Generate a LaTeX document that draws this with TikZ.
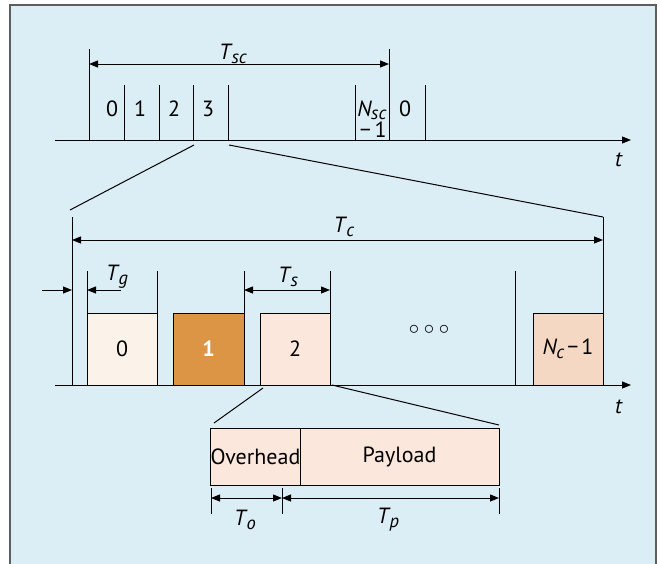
\documentclass[tikz,border=0pt]{standalone}
\usepackage{fontspec}
\setmainfont{PT Sans}
\usetikzlibrary{arrows.meta}
\definecolor{bg}{HTML}{DBEDF5}
\definecolor{framegray}{HTML}{5E5E5E}
\definecolor{cA}{HTML}{FBF2E9}
\definecolor{cB}{HTML}{DC9544}
\definecolor{cC}{HTML}{FBE7DB}
\definecolor{cD}{HTML}{F5D8C3}
\newcommand\Tlab[2]{\textit{#1}\kern-1pt\raisebox{-0.35ex}{\fontsize{18.5}{18}\selectfont\textit{#2}}}
\begin{document}
\begin{tikzpicture}[x=1pt,y=-1pt,line width=1pt,
  tipend/.style={-{Triangle[length=9pt,width=7pt]}},
  dim/.style={{Triangle[length=9pt,width=7pt]}-{Triangle[length=9pt,width=7pt]}},
  lab/.style={inner sep=0pt,font=\fontsize{22}{24}\selectfont},
  box/.style={draw,inner sep=0pt,line width=0.8pt,font=\fontsize{22}{24}\selectfont}]
\useasboundingbox (0,0) rectangle (661,563);
\path[fill=bg,draw=framegray,line width=1.5pt] (10,5) rectangle (656,640);

% ---------- top time line ----------
\coordinate (a1s) at (55,140);
\coordinate (a1e) at (631,140);
\draw[tipend] (a1s) -- (a1e);
\node[lab] (t1) at (619,160) {\textit{t}};
\foreach \x in {89,389}{\draw (\x,49) -- (\x,140);}
\foreach \x in {124,159,193,228,355,425}{\draw (\x,85) -- (\x,140);}
\coordinate (sc0) at (89,64);
\coordinate (sc1) at (389,64);
\draw[dim] (sc0) -- (sc1);
\node[lab] (Tsc) at (233,54) {\Tlab{T}{sc}};
\node[lab] (s0) at (112,109) {0};
\node[lab] (s1) at (140,109) {1};
\node[lab] (s2) at (174,109) {2};
\node[lab] (s3) at (208,109) {3};
\node[lab,align=right,font=\fontsize{22}{21}\selectfont] (sN) at (372,119) {\textit{N}\kern-1pt\raisebox{-0.3ex}{\fontsize{18.5}{18}\selectfont\textit{sc}}\\\char"2212\,1};
\node[lab] (s0b) at (405,109) {0};

% ---------- zoom lines 1 ----------
\coordinate (z1a) at (194,145);
\coordinate (z1b) at (70,210);
\coordinate (z1c) at (229,145);
\coordinate (z1d) at (603,217);
\draw (z1a) -- (z1b);
\draw (z1c) -- (z1d);

% ---------- middle time line ----------
\coordinate (a2s) at (55,385);
\coordinate (a2e) at (631,385);
\draw[tipend] (a2s) -- (a2e);
\node[lab] (t2) at (619,407) {\textit{t}};
\foreach \x in {72,603}{\draw (\x,217) -- (\x,385);}
\foreach \x in {87,157,244,330,515}{\draw (\x,271) -- (\x,385);}
\coordinate (c0) at (72,240);
\coordinate (c1) at (603,240);
\draw[dim] (c0) -- (c1);
\node[lab] (Tc) at (344,227) {\Tlab{T}{c}};

\node[box,fill=cA,minimum width=70pt,minimum height=72pt] (b0) at (122,349) {0};
\node[box,fill=cB,minimum width=71pt,minimum height=72pt,text=white] (b1) at (208.5,349) {\textbf{1}};
\node[box,fill=cC,minimum width=70pt,minimum height=72pt] (b2) at (295,349) {2};
\node[box,fill=cD,minimum width=70pt,minimum height=72pt] (bN) at (568,349) {\textit{N}\kern-1pt\raisebox{-0.35ex}{\fontsize{18.5}{18}\selectfont\textit{c}}\kern3pt\char"2212\kern3pt1};
\node[lab] (dots) at (429,330) {$\circ\circ\circ$};

\coordinate (g0) at (42,290);
\coordinate (g1) at (72,290);
\draw[tipend] (g0) -- (g1);
\coordinate (g2) at (121,290);
\coordinate (g3) at (87,290);
\draw[tipend] (g2) -- (g3);
\node[lab] (Tg) at (117,277) {\Tlab{T}{g}};
\coordinate (s0c) at (244,290);
\coordinate (s1c) at (330,290);
\draw[dim] (s0c) -- (s1c);
\node[lab] (Ts) at (288,277) {\Tlab{T}{s}};

% ---------- zoom lines 2 ----------
\coordinate (z2a) at (263,388);
\coordinate (z2b) at (214,423);
\coordinate (z2c) at (332,385);
\coordinate (z2d) at (499,425);
\draw (z2a) -- (z2b);
\draw (z2c) -- (z2d);

% ---------- slot detail ----------
\node[box,fill=cC,minimum width=89pt,minimum height=57pt] (ov) at (255.5,456.5) {Overhead};
\node[box,fill=cC,minimum width=199pt,minimum height=57pt] (pl) at (399.5,456.5) {Payload};
\foreach \x in {211,282,499}{\draw (\x,488) -- (\x,514);}
\coordinate (o0) at (211,498);
\coordinate (o1) at (282,498);
\coordinate (p1) at (499,498);
\draw[dim] (o0) -- (o1);
\draw[dim] (o1) -- (p1);
\node[lab] (To) at (245,520) {\Tlab{T}{o}};
\node[lab] (Tp) at (388,520) {\Tlab{T}{p}};
\end{tikzpicture}
\end{document}
